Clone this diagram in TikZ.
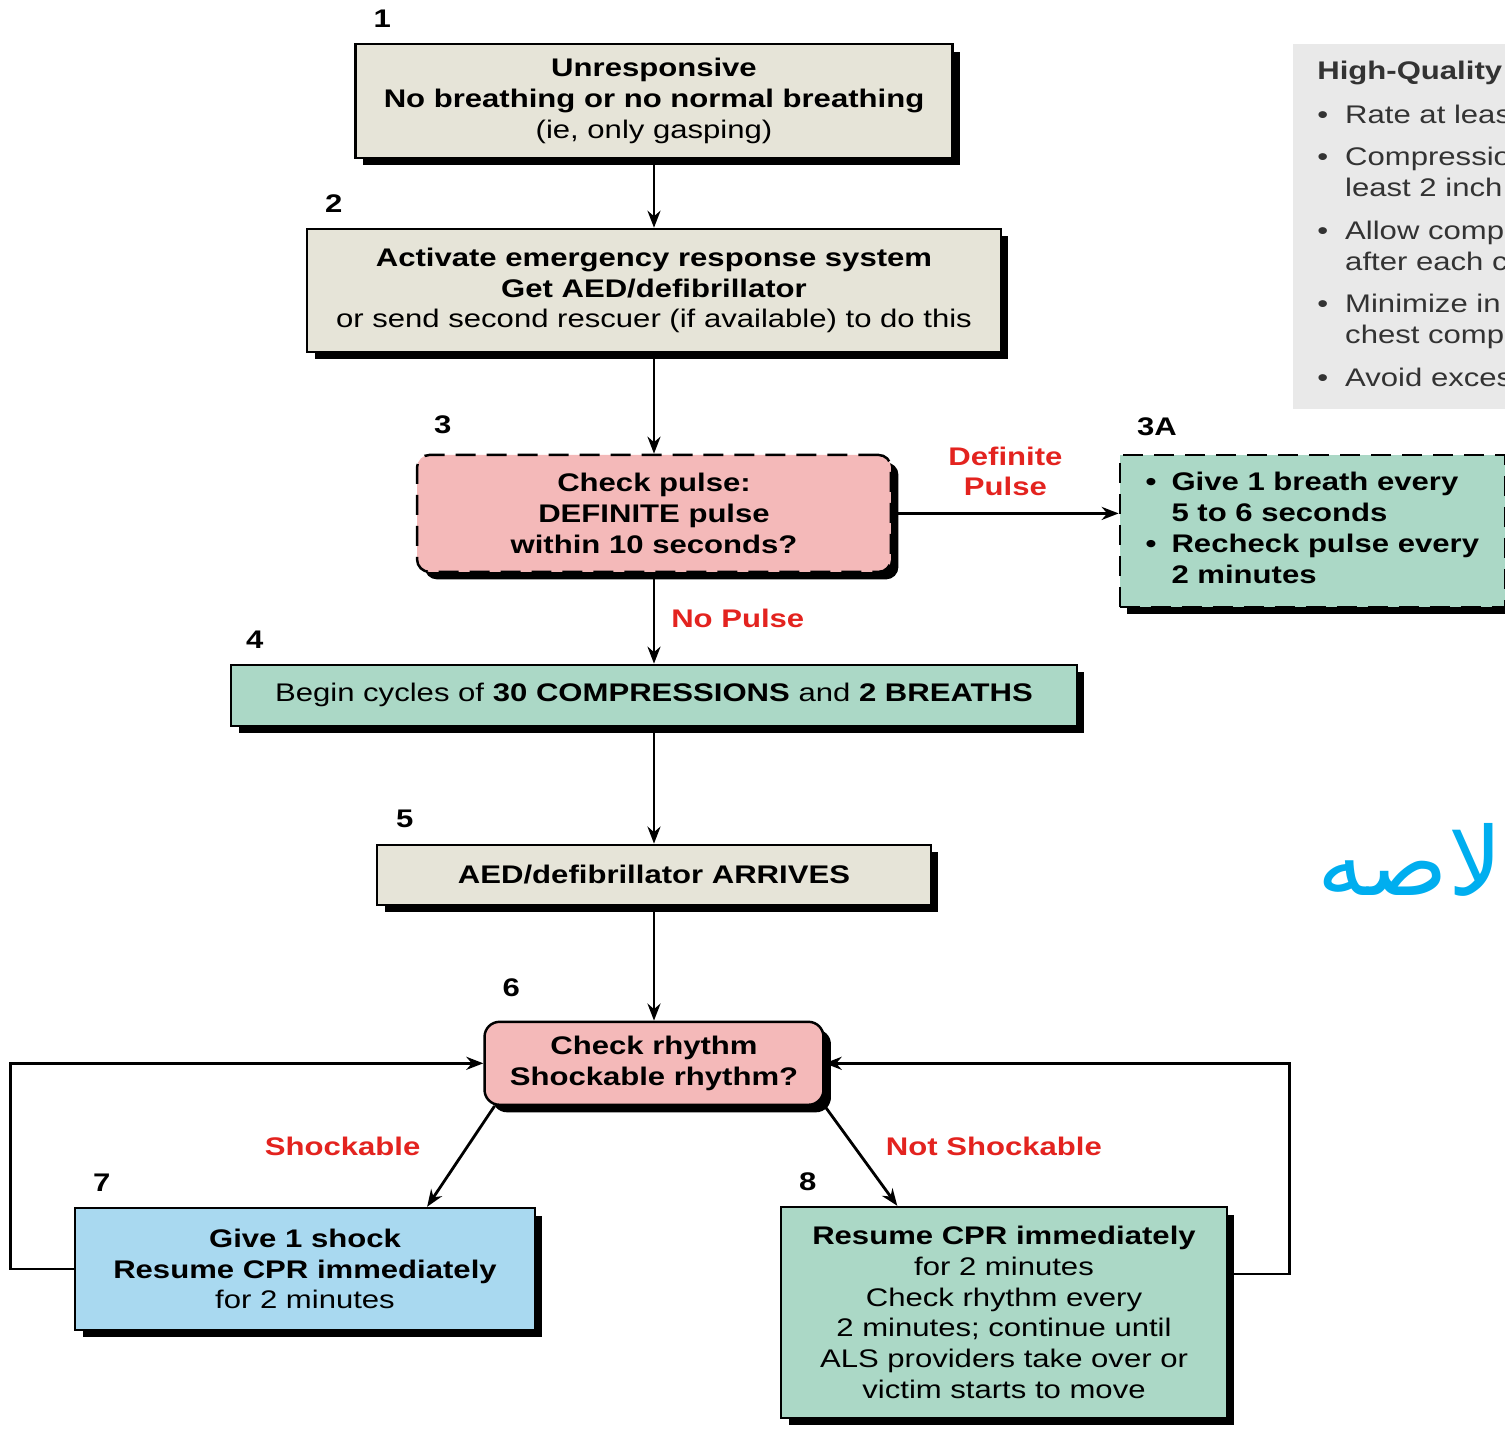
\documentclass[tikz,border=0pt]{standalone}
\usepackage{fontspec}
\setmainfont{Liberation Sans}[FakeStretch=1.22]
\newfontfamily\arabicfont[Script=Arabic]{DejaVu Sans}
\TeXXeTstate=1
\usetikzlibrary{shapes,arrows,arrows.meta,shadows,positioning}
\definecolor{beige}{HTML}{E6E4D8}
\definecolor{pulsepink}{HTML}{F4B9B9}
\definecolor{cprgreen}{HTML}{ABD8C6}
\definecolor{shockblue}{HTML}{A9D9F0}
\definecolor{panelgray}{HTML}{E9E9E9}
\definecolor{labelred}{HTML}{E3231F}
\definecolor{arabicblue}{HTML}{00AEEF}
\newcommand{\flowfont}{\fontsize{14.5}{17.5}\selectfont}
\tikzstyle{block} = [rectangle, draw, line width=1.4pt, text centered, align=center, font=\flowfont, drop shadow={shadow xshift=0.15cm, shadow yshift=-0.15cm, opacity=1, fill=black}]
\tikzstyle{decision} = [block, rounded corners=0.3cm, fill=pulsepink]
\tikzstyle{dashedblock} = [block, dash pattern=on 0.4cm off 0.22cm]
\tikzstyle{stepnum} = [font=\flowfont\bfseries, inner sep=0pt]
\tikzstyle{branch} = [font=\flowfont\bfseries, text=labelred, align=center]
\tikzstyle{panel} = [rectangle, fill=panelgray, font=\flowfont, text=black!80, inner xsep=0.48cm, inner ysep=0.27cm]
\tikzstyle{arrow} = [line width=1.6pt,->,>={Stealth[length=0.34cm, width=0.26cm]}]

\begin{document}
\begin{tikzpicture}[x=0.02cm, y=-0.02cm, node distance = 3.79cm, auto]
    \useasboundingbox (0,0) rectangle (1505,1430);
    % Place nodes
    \node [block, fill=beige, minimum width=11.94cm, minimum height=2.28cm] (step1) at (654,101) {\textbf{Unresponsive}\\ \textbf{No breathing or no normal breathing}\\ (ie, only gasping)};
    \node [block, fill=beige, below of=step1, minimum width=13.88cm, minimum height=2.46cm] (step2) {\textbf{Activate emergency response system}\\ \textbf{Get AED/defibrillator}\\ or send second rescuer (if available) to do this};
    \node [dashedblock, rounded corners=0.25cm, fill=pulsepink, below of=step2, node distance=4.46cm, minimum width=9.48cm, minimum height=2.34cm] (step3) {\textbf{Check pulse:}\\ \textbf{DEFINITE pulse}\\ \textbf{within 10 seconds?}};
    \node [dashedblock, fill=cprgreen, right of=step3, node distance=13.17cm, yshift=-0.35cm, minimum width=7.7cm, minimum height=3.04cm] (step3A) {\bfseries\begin{tabular}{@{}l@{\hspace{0.3cm}}l@{}}
        • & Give 1 breath every\\ & 5 to 6 seconds\\ • & Recheck pulse every\\ & 2 minutes\end{tabular}};
    \node [block, fill=cprgreen, below of=step3, node distance=3.64cm, minimum width=16.92cm, minimum height=1.22cm] (step4) {Begin cycles of \textbf{30 COMPRESSIONS} and \textbf{2 BREATHS}};
    \node [block, fill=beige, below of=step4, node distance=3.59cm, minimum width=11.08cm, minimum height=1.2cm] (step5) {\textbf{AED/defibrillator ARRIVES}};
    \node [decision, below of=step5, node distance=3.77cm, minimum width=6.78cm, minimum height=1.66cm] (step6) {\textbf{Check rhythm}\\ \textbf{Shockable rhythm?}};
    \node [block, fill=shockblue, minimum width=9.2cm, minimum height=2.44cm] (step7) at (305,1269) {\textbf{Give 1 shock}\\ \textbf{Resume CPR immediately}\\ for 2 minutes};
    \node [block, fill=cprgreen, minimum width=8.92cm, minimum height=4.22cm] (step8) at (1004,1312.5) {\textbf{Resume CPR immediately}\\ for 2 minutes\\ Check rhythm every\\ 2 minutes; continue until\\ ALS providers take over or\\ victim starts to move};

    % Step numbers
    \node [stepnum, above right=0.3cm and 0.38cm of step1.north west] (num1) {1};
    \node [stepnum, above right=0.3cm and 0.38cm of step2.north west] (num2) {2};
    \node [stepnum, above right=0.4cm and 0.36cm of step3.north west] (num3) {3};
    \node [stepnum, above right=0.36cm and 0.36cm of step3A.north west] (num3A) {3A};
    \node [stepnum, above right=0.3cm and 0.32cm of step4.north west] (num4) {4};
    \node [stepnum, above right=0.32cm and 0.4cm of step5.north west] (num5) {5};
    \node [stepnum, above right=0.48cm and 0.38cm of step6.north west] (num6) {6};
    \node [stepnum, above right=0.3cm and 0.38cm of step7.north west] (num7) {7};
    \node [stepnum, above right=0.3cm and 0.38cm of step8.north west] (num8) {8};

    % Side panel, as far as the page shows it
    \node [panel, anchor=north west, minimum width=4.5cm] (quality) at (1293,44) {\begin{tabular}{@{}l@{\hspace{0.34cm}}l@{}}
        \multicolumn{2}{@{}l}{\textbf{High-Quality}}\\[0.26cm]
        • & Rate at leas\\[0.24cm]
        • & Compressio\\ & least 2 inch\\[0.24cm]
        • & Allow comp\\ & after each c\\[0.24cm]
        • & Minimize in\\ & chest comp\\[0.24cm]
        • & Avoid exces\end{tabular}};
    \node [font=\arabicfont\fontsize{54}{60}\selectfont, text=arabicblue, anchor=base east, inner sep=0pt] (watermark) at (1503,895) {\beginR لاصه\endR};

    \draw [arrow] (step1) -- (step2);
    \draw [arrow] (step2) -- (step3);
    \draw [arrow] (step3.east) -- node [branch, above=0.2cm] {Definite\\Pulse} (step3.east -| step3A.west);
    \draw [arrow] (step3) -- node [branch, right=0.2cm] {No Pulse} (step4);
    \draw [arrow] (step4) -- (step5);
    \draw [arrow] (step5) -- (step6);
    \draw [arrow] (step6.195) -- node [branch, pos=0.4, left=0.8cm] {Shockable} (step7.27);
    \draw [arrow] (step6.south east) -- node [branch, pos=0.4, right=0.5cm] {Not Shockable} (step8.135);
    \draw [arrow] (step7.west) -- ++(-63,0) |- (step6.west);
    \draw [arrow] ([yshift=0.77cm]step8.east) -- ++(61,0) |- (step6.east);
\end{tikzpicture}
\end{document}
